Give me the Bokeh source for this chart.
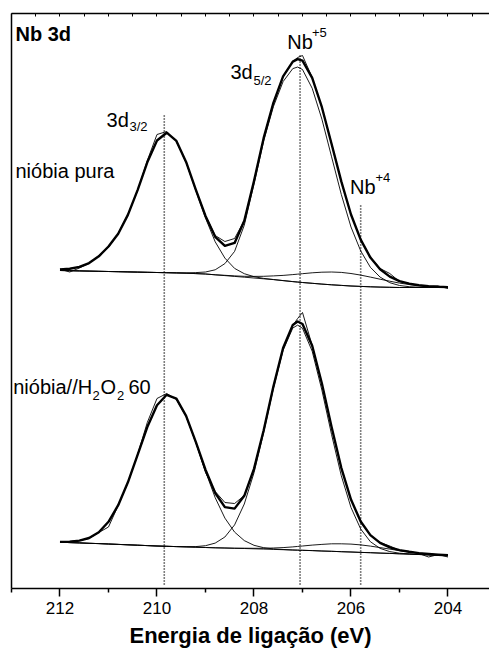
import numpy as np
from bokeh.plotting import figure
from bokeh.models import Range1d, LinearAxis, FixedTicker, Label
from bokeh.embed import file_html
from bokeh.resources import INLINE

# ---------------- data (binding energy in eV, intensity in arbitrary units) ----------------
energy = [212.0, 211.8, 211.6, 211.4, 211.2, 211.0, 210.8, 210.6, 210.4, 210.2, 210.0,
          209.8, 209.6, 209.4, 209.2, 209.0, 208.8, 208.6, 208.4, 208.2, 208.0,
          207.8, 207.6, 207.4, 207.2, 207.1, 207.0, 206.8, 206.6, 206.4, 206.2,
          206.0, 205.8, 205.6, 205.4, 205.2, 205.0, 204.8, 204.6, 204.4, 204.2, 204.0]

# "nióbia pura" spectrum
pure_background = [318.0, 317.8, 317.6, 317.4, 317.2, 317.0, 316.8, 316.6, 316.4, 316.2, 316.0,
                   315.8, 315.6, 315.3, 314.9, 314.5, 313.7, 312.9, 312.1, 311.3, 310.5,
                   309.7, 308.9, 307.9, 306.9, 306.45, 306.0, 305.2, 304.4, 303.7, 303.1,
                   302.5, 302.1, 301.7, 301.4, 301.2, 301.0, 301.0, 301.0, 301.0, 301.0, 301.0]
pure_3d32 = [1, 2, 4, 8, 15, 25, 38, 57, 82, 110, 132,
             140, 132, 111, 83, 56, 33, 17.5, 8, 3.5, 1.3,
             0.4, 0.1, 0, 0, 0, 0, 0, 0, 0, 0,
             0, 0, 0, 0, 0, 0, 0, 0, 0, 0, 0]
pure_3d52 = [0, 0, 0, 0, 0, 0, 0, 0, 0, 0, 0,
             0, 0, 0.3, 1, 2, 5, 12, 25, 52, 94,
             138, 173, 199, 213, 215, 213, 195, 165, 128, 91,
             59, 35.5, 19.5, 10, 4.6, 2, 0.8, 0.3, 0.1, 0, 0]
pure_nb4 = [0, 0, 0, 0, 0, 0, 0, 0, 0, 0, 0,
            0, 0, 0, 0, 0, 0, 0.3, 0.5, 0.9, 1.6,
            2.5, 3.7, 5.2, 7.0, 7.9, 8.8, 10.5, 11.9, 12.8, 13.0,
            12.5, 11.3, 9.7, 7.9, 6.1, 4.4, 3.0, 2.0, 1.2, 0.7, 0.4]
pure_raw = [319.5, 316.5, 320.5, 325, 333, 341, 355, 374, 398, 428, 454,
            457, 447, 426, 399, 373, 353, 347, 350, 368, 407,
            450, 486, 512, 527, 531, 533, 511, 481, 445, 407,
            374, 349, 331.5, 320, 315, 307, 305, 303, 302, 302.5, 300]

# "nióbia//H2O2 60" spectrum
h2o2_background = [46.3, 45.9, 45.6, 45.2, 44.9, 44.5, 44.1, 43.7, 43.3, 42.9, 42.5,
                   42.2, 41.9, 41.6, 41.3, 41.0, 40.7, 40.5, 40.2, 40.0, 39.7,
                   39.4, 39.1, 38.8, 38.5, 38.35, 38.2, 37.9, 37.5, 37.2, 36.8,
                   36.5, 36.1, 35.8, 35.4, 35.1, 34.7, 34.4, 34.0, 33.7, 33.3, 33.0]
h2o2_3d32 = [0.3, 0.9, 2.3, 5.3, 11.4, 22.2, 39.2, 62.5, 90.4, 118.5, 140.8,
             151.5, 147.9, 130.8, 104.8, 76.1, 50.1, 29.9, 16.2, 7.9, 3.5,
             1.4, 0.5, 0.2, 0, 0, 0, 0, 0, 0, 0,
             0, 0, 0, 0, 0, 0, 0, 0, 0, 0, 0]
h2o2_3d52 = [0, 0, 0, 0, 0, 0, 0, 0, 0, 0, 0,
             0, 0, 0.2, 0.6, 1.8, 4.7, 11.0, 23.4, 44.5, 76.0,
             116.7, 160.9, 199.4, 222.0, 225.0, 222.0, 199.4, 160.9, 116.7, 76.0,
             44.5, 23.4, 11.0, 4.7, 1.8, 0.6, 0.2, 0, 0, 0, 0]
h2o2_nb4 = [0, 0, 0, 0, 0, 0, 0, 0, 0, 0, 0,
            0, 0, 0, 0, 0, 0, 0, 0.1, 0.3, 0.5,
            0.8, 1.4, 2.1, 3.1, 3.7, 4.3, 5.5, 6.6, 7.5, 7.9,
            7.9, 7.5, 6.6, 5.5, 4.3, 3.1, 2.1, 1.4, 0.8, 0.5, 0.3]
h2o2_raw = [46.5, 47, 48, 50, 56, 61.5, 83, 106, 134, 166, 190,
            195, 189, 172, 146, 116, 97, 86, 85, 93, 120,
            158, 202, 240, 263, 270, 276, 243, 205, 161, 121,
            89, 67, 53, 46, 42.5, 38, 37, 35, 31.5, 34, 31.5]

# reference binding energies (3d3/2 Nb+5, 3d5/2 Nb+5, 3d5/2 Nb+4)
marker_energy = [209.85, 207.05, 205.8]

x_ticks = [212, 210, 208, 206, 204]
x_minor_ticks = [213, 211, 209, 207, 205, 203]
top_ticks = [213, 212.5, 212, 211.5, 211, 210.5, 210, 209.5, 209, 208.5,
             208, 207.5, 207, 206.5, 206, 205.5, 205, 204.5, 204, 203.5]

FONT = "Liberation Sans"

# ---------------- figure ----------------
p = figure(width=489, height=651, output_backend="svg", toolbar_location=None,
           x_range=Range1d(213, 203.144), y_range=Range1d(0, 575),
           x_axis_location=None, y_axis_location=None,
           min_border_left=11, min_border_right=0, min_border_top=13, min_border_bottom=63)
p.outline_line_color = None
p.xgrid.grid_line_color = None
p.ygrid.grid_line_color = None
p.background_fill_color = "white"
p.border_fill_color = "white"

bottom = LinearAxis(ticker=FixedTicker(ticks=x_ticks, minor_ticks=x_minor_ticks),
                    axis_label="Energia de ligação (eV)")
bottom.axis_line_width = 1.5
bottom.major_tick_in = 0
bottom.major_tick_out = 8
bottom.minor_tick_in = 0
bottom.minor_tick_out = 4
bottom.major_tick_line_width = 1.5
bottom.minor_tick_line_width = 1.5
bottom.major_label_text_font = FONT
bottom.major_label_text_font_size = "17px"
bottom.major_label_text_color = "black"
bottom.major_label_standoff = 5
bottom.axis_label_text_font = FONT
bottom.axis_label_text_font_style = "bold"
bottom.axis_label_text_font_size = "22px"
bottom.axis_label_text_color = "black"
bottom.axis_label_standoff = 6
p.add_layout(bottom, "below")

top = LinearAxis(ticker=FixedTicker(ticks=top_ticks, minor_ticks=[]))
top.axis_line_width = 1.5
top.major_tick_in = 3
top.major_tick_out = 0
top.minor_tick_in = 0
top.minor_tick_out = 0
top.major_tick_line_width = 1
top.major_label_overrides = {t: "" for t in top_ticks}
top.major_label_standoff = 0
p.add_layout(top, "above")

left = LinearAxis(ticker=FixedTicker(ticks=[], minor_ticks=[]))
left.axis_line_width = 1.5
left.major_tick_in = 0
left.major_tick_out = 0
left.minor_tick_in = 0
left.minor_tick_out = 0
left.major_label_standoff = 0
p.add_layout(left, "left")

# dotted reference lines
guide_top = [474.7, 533.0, 383.0]
guide_bottom = [4.0, 4.0, 4.0]
p.segment(x0=marker_energy, y0=guide_bottom, x1=marker_energy, y1=guide_top,
          line_color="black", line_width=1.6, line_dash="1 2")

x = np.array(energy)
for bg, c1, c2, c3, raw in [
        (pure_background, pure_3d32, pure_3d52, pure_nb4, pure_raw),
        (h2o2_background, h2o2_3d32, h2o2_3d52, h2o2_nb4, h2o2_raw)]:
    bg = np.array(bg)
    comps = [np.array(c1), np.array(c2), np.array(c3)]
    p.line(x, bg, line_color="black", line_width=0.9)
    for c in comps:
        p.line(x, bg + c, line_color="black", line_width=0.9)
    p.line(x, np.array(raw), line_color="black", line_width=0.9)
    envelope = bg + comps[0] + comps[1] + comps[2]
    p.line(x, envelope, line_color="black", line_width=2.4, line_join="round")

def add_label(xv, yv, txt, size="20px", bold=False):
    p.add_layout(Label(x=xv, y=yv, text=txt, text_font=FONT, text_font_size=size,
                       text_font_style="bold" if bold else "normal", text_color="black",
                       text_align="left", text_baseline="alphabetic"))

add_label(212.918, 554.5, "Nb 3d", bold=True)
add_label(211.041, 469.0, "3d")
add_label(210.567, 462.0, "3/2", size="13px")
add_label(208.485, 516.3, "3d")
add_label(208.010, 508.5, "5/2", size="13px")
add_label(207.315, 546.3, "Nb")
add_label(206.804, 556.5, "+5", size="13px")
add_label(206.021, 401.3, "Nb")
add_label(205.495, 411.5, "+4", size="13px")
add_label(212.918, 417.3, "nióbia pura")
add_label(212.965, 201.3, "nióbia//H")
add_label(211.330, 193.5, "2", size="13px")
add_label(211.165, 201.3, "O")
add_label(210.825, 193.5, "2", size="13px")
add_label(210.588, 201.3, "60")

open("out.html", "w").write(file_html(p, INLINE))
